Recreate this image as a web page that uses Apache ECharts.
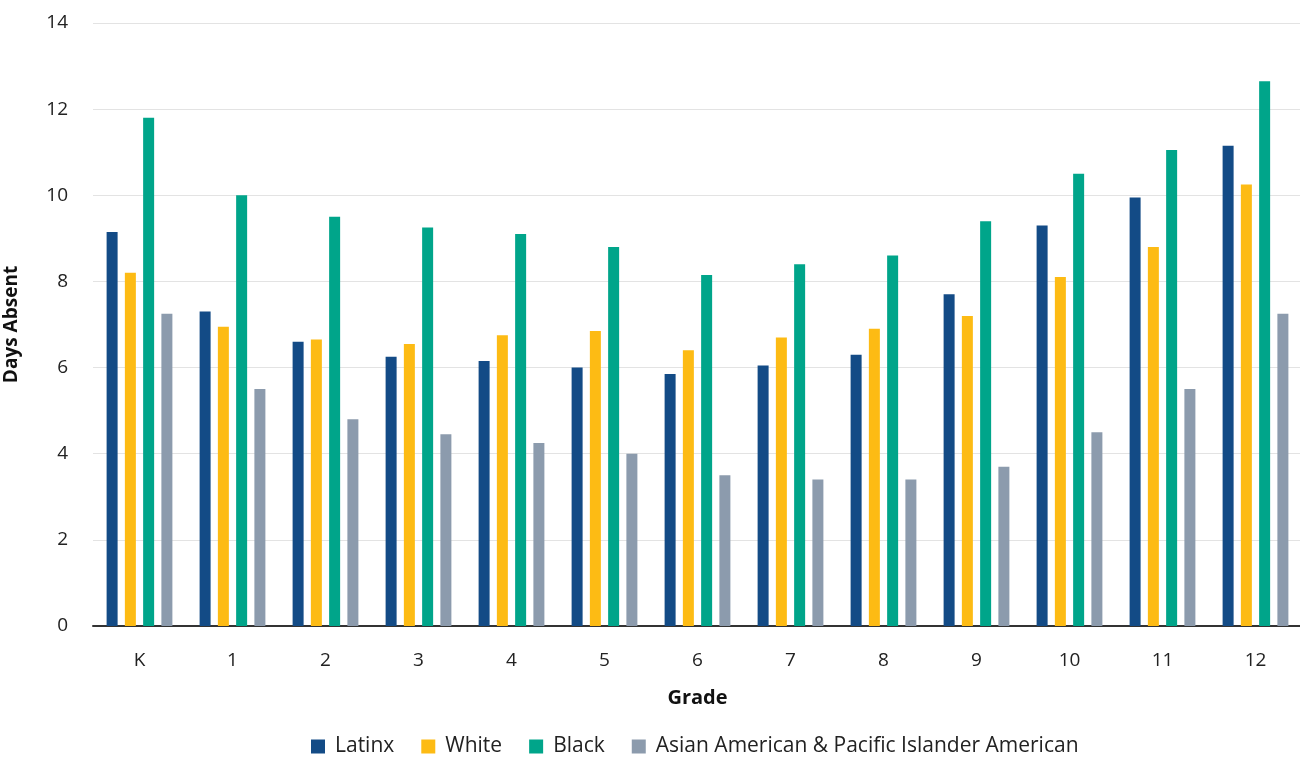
<!DOCTYPE html>
<html>
<head>
<meta charset="utf-8">
<style>
  html, body { margin: 0; padding: 0; background: #ffffff; }
  #chart { width: 1300px; height: 766px; }
</style>
<script src="https://cdn.jsdelivr.net/npm/echarts@6/dist/echarts.min.js"></script>
</head>
<body>
<div id="chart"></div>
<script>
const grades = ['K', '1', '2', '3', '4', '5', '6', '7', '8', '9', '10', '11', '12'];
const seriesNames = ['Latinx', 'White', 'Black', 'Asian American & Pacific Islander American'];
const latinx = [9.15, 7.3, 6.6, 6.25, 6.15, 6.0, 5.85, 6.05, 6.3, 7.7, 9.3, 9.95, 11.15];
const white  = [8.2, 6.95, 6.65, 6.55, 6.75, 6.85, 6.4, 6.7, 6.9, 7.2, 8.1, 8.8, 10.25];
const black  = [11.8, 10.0, 9.5, 9.25, 9.1, 8.8, 8.15, 8.4, 8.6, 9.4, 10.5, 11.05, 12.65];
const asian  = [7.25, 5.5, 4.8, 4.45, 4.25, 4.0, 3.5, 3.4, 3.4, 3.7, 4.5, 5.5, 7.25];
const colors = ['#134b86', '#fdbb14', '#00a58a', '#8c9bad'];

const font = '"Open Sans", Lato, sans-serif';
const chart = echarts.init(document.getElementById('chart'), null, { renderer: 'canvas' });
const values = [latinx, white, black, asian];

chart.setOption({
  animation: false,
  backgroundColor: '#ffffff',
  color: colors,
  grid: { left: 93, top: 23, width: 1209, bottom: 140, containLabel: false, outerBoundsMode: 'none' },
  legend: {
    bottom: 4,
    left: 306,
    itemWidth: 14,
    itemHeight: 14,
    itemGap: 27,
    icon: 'rect',
    textStyle: { fontFamily: font, fontSize: 21, color: '#222', padding: [0, 0, 0, 5] },
    data: seriesNames
  },
  xAxis: {
    type: 'category',
    data: grades,
    name: 'Grade',
    nameLocation: 'middle',
    nameGap: 62,
    nameTextStyle: { fontFamily: font, fontWeight: 'bold', fontSize: 20, color: '#111' },
    axisLine: { lineStyle: { color: '#333', width: 2 } },
    axisTick: { show: false },
    axisLabel: { fontFamily: font, fontSize: 19, color: '#222', margin: 25 }
  },
  yAxis: {
    type: 'value',
    min: 0,
    max: 14,
    interval: 2,
    name: 'Days Absent',
    nameLocation: 'middle',
    nameGap: 72,
    nameTextStyle: { fontFamily: font, fontWeight: 'bold', fontSize: 19, color: '#111' },
    axisLine: { show: false },
    axisTick: { show: false },
    axisLabel: { fontFamily: font, fontSize: 19, color: '#222', margin: 25 },
    splitLine: { lineStyle: { color: '#e3e3e3', width: 1 } }
  },
  series: seriesNames.map((n, i) => ({
    name: n,
    type: 'bar',
    data: values[i],
    barWidth: 11,
    barGap: '66%',
    itemStyle: { color: colors[i] }
  }))
});
</script>
</body>
</html>
